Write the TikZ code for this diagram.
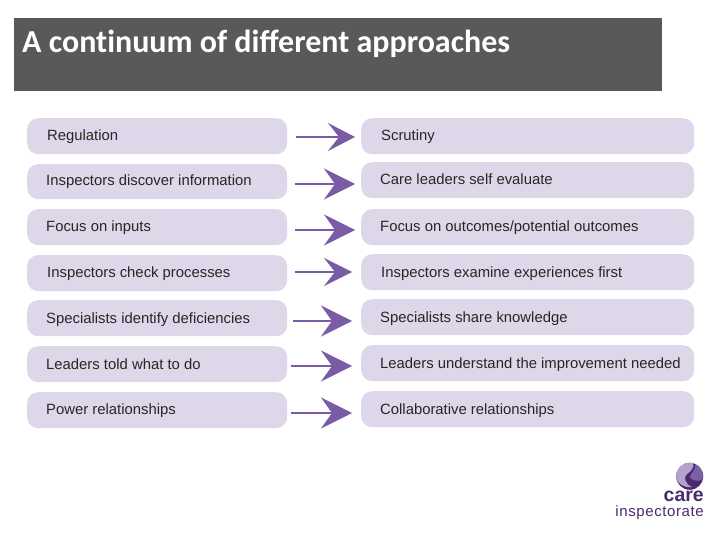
\documentclass[tikz,border=0pt]{standalone}
\usepackage{fontspec}
\setmainfont{Liberation Sans}
\newfontfamily\titlefont{Carlito}
\newfontfamily\logofont[LetterSpace=4]{Liberation Sans}
\usetikzlibrary{arrows.meta}
\definecolor{boxfill}{HTML}{DDD7E9}
\definecolor{arrowc}{HTML}{7A5BA5}
\definecolor{logod}{HTML}{4B2A70}
\definecolor{logom}{HTML}{7D5FA6}
\definecolor{logol}{HTML}{B3A2CC}
\tikzset{
  x=1pt,y=-1pt,
  pill/.style={draw=none,fill=boxfill,rounded corners=11pt,inner sep=0pt,anchor=north west},
  lbl/.style={inner sep=0pt,anchor=base west,font=\fontsize{14.85}{18}\selectfont,text=black!85},
}
\begin{document}
\begin{tikzpicture}
\useasboundingbox (0,0) rectangle (720,540);
\node[fill=white,minimum width=720pt,minimum height=540pt,anchor=north west,inner sep=0pt] (bg) at (0,0) {};
\node[fill=black!65,minimum width=648pt,minimum height=73pt,anchor=north west,inner sep=0pt] (head) at (14,18) {};
\node[anchor=base west,inner sep=0pt,text=white,font=\titlefont\bfseries\fontsize{32}{36}\selectfont] (title) at (22,52.5) {A cont\kern0pt inuum of different approaches};
% left
\foreach \n/\y/\h/\bx/\by/\t in {
 1/118/36/47/141/{Regulation},
 2/164/35/46/186/{Inspectors discover information},
 3/209/36/46/232/{Focus on inputs},
 4/255/36/47/277/{Inspectors check processes},
 5/300/36/46/323/{Specialists identify deficiencies},
 6/346/36/46/369/{Leaders told what to do},
 7/392/36/46/414/{Power relationships}}{
  \node[pill,minimum width=260pt,minimum height=\h pt] (l\n) at (27,\y) {};
  \node[lbl] (lt\n) at (\bx,\by) {\t};
}
% right
\foreach \n/\y/\bx/\by/\t in {
 1/118/381/141/{Scrutiny},
 2/162/380/185/{Care leaders self evaluate},
 3/209/380/232/{Focus on outcomes/potential outcomes},
 4/254/381/277/{Inspectors examine experiences first},
 5/299/380/322/{Specialists share knowledge},
 6/345/380/368/{Leaders understand the improvement needed},
 7/391/380/414/{Collaborative relationships}}{
  \node[pill,minimum width=333pt,minimum height=36pt] (r\n) at (361,\y) {};
  \node[lbl] (rt\n) at (\bx,\by) {\t};
}
% arrows
\foreach \n/\xa/\xb/\y/\hl/\hw in {1/296/355/137/27/28,2/295/355/184/31/31,3/295/355/230/31/31,4/295/352/272/28/28,5/293/352/321/31/31,6/291/352/366/31/31,7/291/352/413/31/31}{
  \coordinate (as\n) at (\xa,\y);
  \coordinate (ae\n) at (\xb,\y);
  \draw[draw=arrowc,line width=2pt,-{Stealth[length=\hl pt,width=\hw pt,inset=11pt,fill=arrowc]}] (as\n) -- (ae\n);
}
% logo
\coordinate (lc) at (689.7,476.3);
\fill[logod] (lc) circle (13.5);
\begin{scope}
\clip (lc) circle (13.5);
\fill[logol] (676,464) -- (693,462) .. controls (695,468) and (690,472) .. (687,474) .. controls (683,477) and (685,484) .. (692,487) .. controls (684,488) and (678,484) .. (676,478) -- cycle;
\fill[logom] (695,462) .. controls (704,464) and (704,476) .. (702,480) .. controls (697,482) and (691,480) .. (690,477) .. controls (689,474) and (697,472) .. (695,462) -- cycle;
\end{scope}
\node[anchor=base east,inner sep=0pt,text=logod,font=\bfseries\fontsize{19.5}{22}\selectfont] (care) at (704,501) {care};
\node[anchor=base east,inner sep=0pt,text=logod,font=\logofont\fontsize{15}{18}\selectfont] (insp) at (704,516) {inspectorate};
\end{tikzpicture}
\end{document}
